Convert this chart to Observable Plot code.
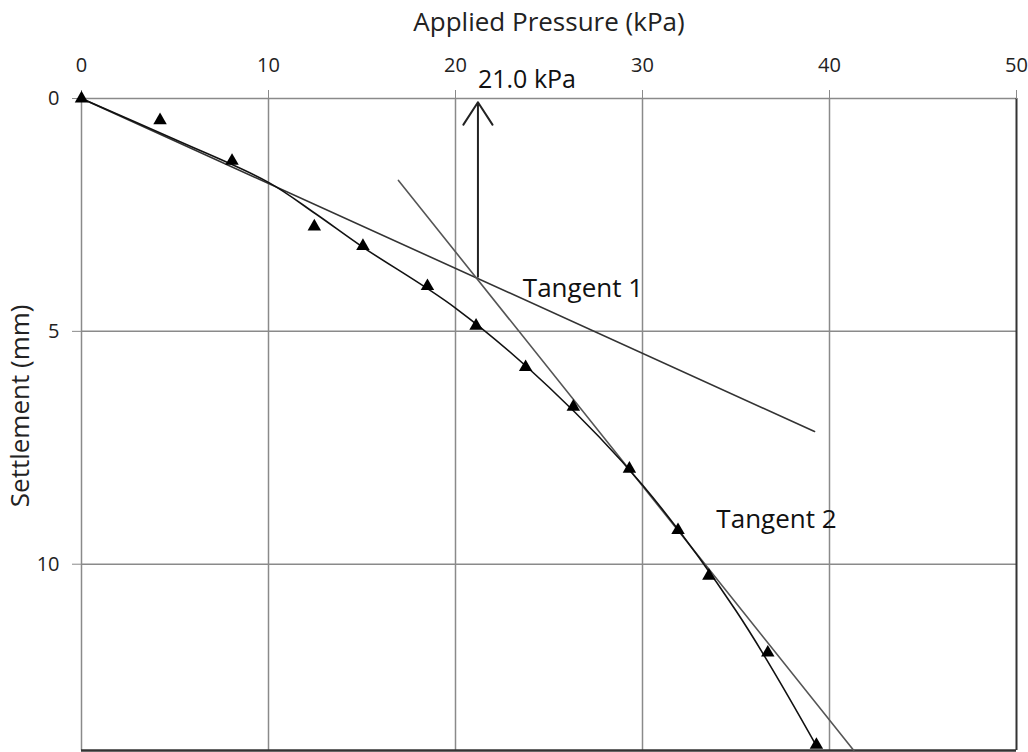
<!DOCTYPE html>
<html>
<head>
<meta charset="utf-8">
<script src="https://cdn.jsdelivr.net/npm/d3@7"></script>
<script src="https://cdn.jsdelivr.net/npm/@observablehq/plot@0.6"></script>
<style>
  html, body { margin: 0; padding: 0; background: #fff; }
  #chart svg { display: block; }
</style>
</head>
<body>
<div id="chart"></div>
<script>
// Measured load test points
const pressure   = [0, 4.2, 8.05, 12.45, 15.05, 18.5, 21.1, 23.75, 26.3, 29.3, 31.9, 33.55, 36.7, 39.3];
const settlement = [0, 0.47, 1.34, 2.75, 3.17, 4.03, 4.88, 5.77, 6.62, 7.95, 9.27, 10.25, 11.9, 13.88];

// Fitted curve through the points
const fitPressure   = [0, 5, 10, 12.5, 15, 20, 25, 30, 35, 39.3];
const fitSettlement = [0, 0.88, 1.8, 2.47, 3.18, 4.5, 6.2, 8.3, 11.0, 13.9];

// Tangent lines
const tangent1P = [0, 39.2];
const tangent1S = [0, 7.15];
const tangent2P = [16.95, 41.3];
const tangent2S = [1.76, 14];

// Intersection / failure pressure annotation
const failureP = 21.2;
const failureS = 3.83;
const failureLabel = "21.0 kPa";

const xTicks = [0, 10, 20, 30, 40, 50];
const yTicks = [0, 5, 10];
const xTitle = "Applied Pressure (kPa)";
const yTitle = "Settlement (mm)";

const points = pressure.map((p, i) => ({p, s: settlement[i]}));
const fit = fitPressure.map((p, i) => ({p, s: fitSettlement[i]}));
const t1 = tangent1P.map((p, i) => ({p, s: tangent1S[i]}));
const t2 = tangent2P.map((p, i) => ({p, s: tangent2S[i]}));

const chart = Plot.plot({
  width: 1028,
  height: 752,
  marginTop: 98,
  marginLeft: 81,
  marginRight: 12,
  marginBottom: 2,
  style: {fontFamily: "'Open Sans', 'Noto Sans', sans-serif", background: "#fff"},
  x: {domain: [0, 50]},
  y: {domain: [0, 14], reverse: true},
  marks: [
    Plot.ruleX(xTicks.slice(0, 5), {stroke: "#8a8a8a", strokeWidth: 1.5}),
    Plot.ruleY(yTicks, {stroke: "#8a8a8a", strokeWidth: 1.5}),
    Plot.ruleX([50], {stroke: "#333", strokeWidth: 2}),
    Plot.ruleY([14], {stroke: "#333", strokeWidth: 2.5}),
    Plot.axisX({anchor: "top", ticks: xTicks, tickSize: 9, tickFormat: () => "", stroke: "#8a8a8a", label: null}),
    Plot.axisY({anchor: "left", ticks: yTicks, tickSize: 9, tickFormat: () => "", stroke: "#8a8a8a", label: null}),
    Plot.text(xTicks, {x: d => d, frameAnchor: "top", lineAnchor: "bottom", dy: -27, text: d => String(d), fontSize: 20, fill: "#222"}),
    Plot.text(yTicks, {y: d => d, frameAnchor: "left", textAnchor: "end", lineAnchor: "middle", dx: -22, text: d => String(d), fontSize: 20, fill: "#222"}),
    Plot.text([0], {frameAnchor: "top", textAnchor: "middle", lineAnchor: "middle", dy: -76, text: () => xTitle, fontSize: 26, fill: "#222", letterSpacing: 2.6}),
    Plot.text([0], {y: 6.6, frameAnchor: "left", textAnchor: "middle", lineAnchor: "middle", dx: -61, rotate: -90, text: () => yTitle, fontSize: 26, fill: "#222", letterSpacing: 2.6}),
    Plot.line(t1, {x: "p", y: "s", stroke: "#333", strokeWidth: 1.6}),
    Plot.line(t2, {x: "p", y: "s", stroke: "#555", strokeWidth: 1.6}),
    Plot.line(fit, {x: "p", y: "s", curve: "catmull-rom", stroke: "#111", strokeWidth: 1.6}),
    Plot.dot(points, {x: "p", y: "s", symbol: "triangle", r: 5, fill: "#000", stroke: "none"}),
    Plot.arrow([0], {x1: failureP, y1: failureS, x2: failureP, y2: 0.08, stroke: "#222", strokeWidth: 2, headLength: 20, headAngle: 66}),
    Plot.text([0], {x: failureP, y: -0.39, text: () => failureLabel, textAnchor: "start", fontSize: 25, fill: "#111"}),
    Plot.text([0], {x: 23.6, y: 4.09, text: () => "Tangent 1", textAnchor: "start", fontSize: 26, fill: "#111"}),
    Plot.text([0], {x: 33.95, y: 9.05, text: () => "Tangent 2", textAnchor: "start", fontSize: 26, fill: "#111"})
  ]
});
document.getElementById("chart").appendChild(chart);
</script>
</body>
</html>
